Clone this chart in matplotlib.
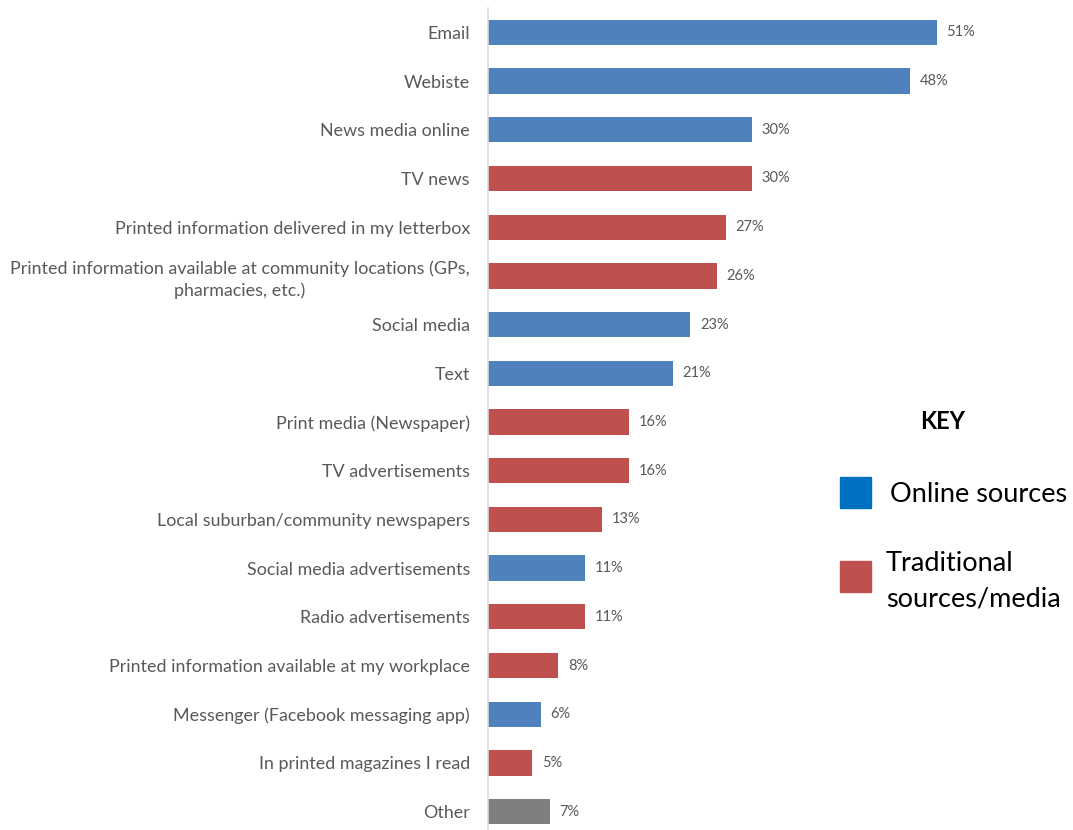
import matplotlib.pyplot as plt
from matplotlib.patches import Rectangle

plt.rcParams['font.family'] = ['Lato', 'DejaVu Sans']

categories = [
    "Email", "Webiste", "News media online", "TV news",
    "Printed information delivered in my letterbox",
    "Printed information available at community locations (GPs,\npharmacies, etc.)",
    "Social media", "Text", "Print media (Newspaper)", "TV advertisements",
    "Local suburban/community newspapers", "Social media advertisements",
    "Radio advertisements", "Printed information available at my workplace",
    "Messenger (Facebook messaging app)", "In printed magazines I read", "Other",
]
values = [51, 48, 30, 30, 27, 26, 23, 21, 16, 16, 13, 11, 11, 8, 6, 5, 7]
source_type = ["online", "online", "online", "trad", "trad", "trad", "online", "online",
               "trad", "trad", "trad", "online", "trad", "trad", "online", "trad", "other"]

bar_colors = {"online": "#4F81BD", "trad": "#C0504D", "other": "#7F7F7F"}
text_gray = "#595959"

W, H = 1073, 830
fig = plt.figure(figsize=(W / 100, H / 100), dpi=100)
ax = fig.add_axes([488 / W, 1 - 836 / H, 512 / W, 828 / H])

ypos = list(range(len(categories)))
ax.barh(ypos, values, height=0.52, color=[bar_colors[t] for t in source_type])
ax.set_ylim(len(categories) - 0.5, -0.5)
ax.set_xlim(0, 512 / 8.8)

for y, v in zip(ypos, values):
    ax.text(v + 1.1, y, f"{v}%", va="center", ha="left", fontsize=10.5, color=text_gray)

ax.set_yticks(ypos)
ax.set_yticklabels(categories, fontsize=12.9, color=text_gray, linespacing=1.35)
for lbl in ax.get_yticklabels():
    lbl.set_multialignment("center")
ax.tick_params(axis="y", length=0, pad=13)
ax.set_xticks([])
for side in ["top", "right", "bottom"]:
    ax.spines[side].set_visible(False)
ax.spines["left"].set_color("#D9D9D9")
ax.spines["left"].set_linewidth(1.2)

# key
fig.text(943 / W, 1 - 421 / H, "KEY", fontsize=17, fontweight="bold", ha="center", va="center")
fig.patches.append(Rectangle((840 / W, 1 - 508 / H), 31 / W, 31 / H,
                             transform=fig.transFigure, color="#0070C0"))
fig.text(890 / W, 1 - 494 / H, "Online sources", fontsize=19.5, ha="left", va="center")
fig.patches.append(Rectangle((840 / W, 1 - 592 / H), 31 / W, 31 / H,
                             transform=fig.transFigure, color="#C0504D"))
fig.text(886 / W, 1 - 581 / H, "Traditional\nsources/media", fontsize=19.5, ha="left",
         va="center", linespacing=1.5)

fig.savefig("out.png", dpi=100)
